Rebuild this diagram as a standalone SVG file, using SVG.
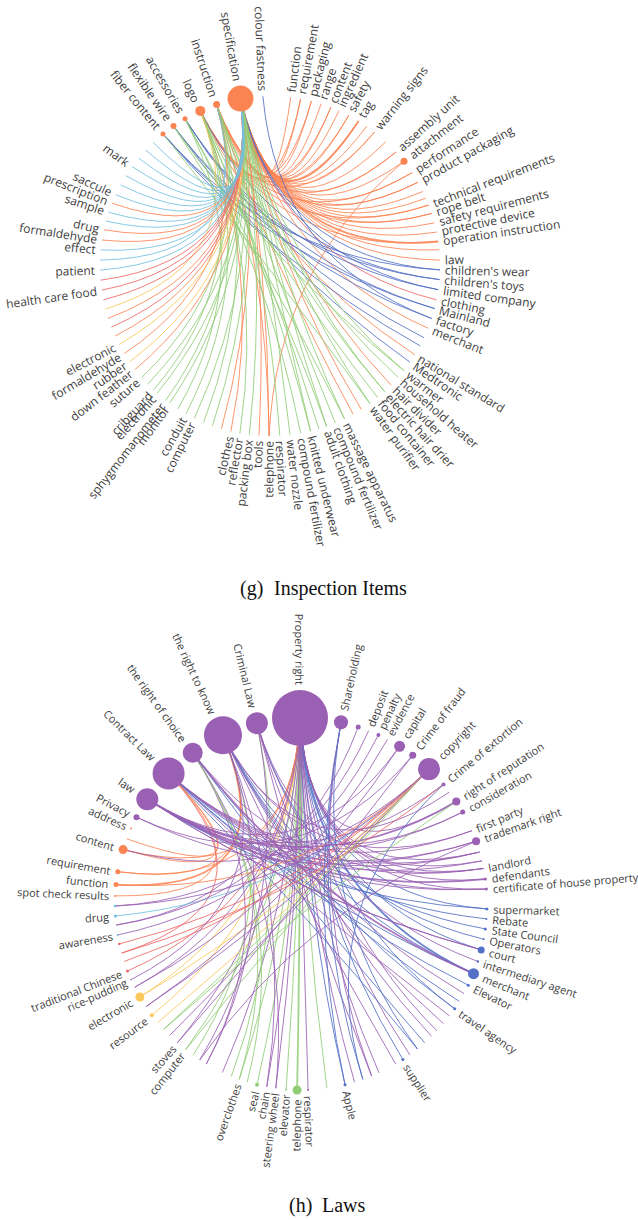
<svg xmlns="http://www.w3.org/2000/svg" width="638" height="1220" viewBox="0 0 638 1220">
<style>
.lb{font-family:"Open Sans","Noto Sans",sans-serif;font-size:12px;fill:#404040;dominant-baseline:central}
.lh{font-family:"Open Sans","Noto Sans",sans-serif;font-size:11px;fill:#404040;dominant-baseline:central}
.s{text-anchor:start}.e{text-anchor:end}
.cap{font-family:"Liberation Serif","Times New Roman",serif;font-size:20px;fill:#111}
.edges path{fill:none;stroke-width:1;stroke-opacity:.85}
.edges .w{stroke-width:1.8}
.o{stroke:#fc8452}.b{stroke:#5470c6}.g{stroke:#91cc75}.c{stroke:#73c0de}.r{stroke:#ee6666}.y{stroke:#fac858}.p{stroke:#9a60b4}
.fo{fill:#fc8452}.fb{fill:#5470c6}.fg{fill:#91cc75}.fc{fill:#73c0de}.fr{fill:#ee6666}.fy{fill:#fac858}.fp{fill:#9a60b4}
</style>

<!-- ============ (g) Inspection Items ============ -->
<g id="edges-g" class="edges">
<path class="o" d="M240.5 98.6Q269.5 249.2 290.7 97.3"/>
<path class="o" d="M240.5 98.6Q270 249.2 300.7 98.8"/>
<path class="o" d="M240.5 98.6Q270.6 249.4 311.4 101.1"/>
<path class="o" d="M240.5 98.6Q271.1 249.5 321.1 103.9"/>
<path class="o" d="M240.5 98.6Q271.5 249.7 330.9 107.3"/>
<path class="o" d="M240.5 98.6Q272 249.8 339.1 110.7"/>
<path class="o" d="M240.5 98.6Q272.4 250.1 348.8 115.3"/>
<path class="o w" d="M240.5 98.6Q272.9 250.3 358.6 120.9"/>
<path class="o" d="M240.5 98.6Q273.3 250.6 366.8 126.2"/>
<path class="o" d="M240.5 98.6Q273.7 250.9 374.7 132"/>
<path class="o" d="M240.5 98.6Q274.3 251.4 385.9 141.7"/>
<path class="o" d="M240.5 98.6Q274.8 251.9 396.1 152"/>
<path class="o" d="M240.5 98.6Q275.2 252.4 404 161.3"/>
<path class="o" d="M240.5 98.6Q275.6 252.9 412.1 172.7"/>
<path class="o" d="M240.5 98.6Q275.9 253.4 418 182.3"/>
<path class="o" d="M240.5 98.6Q276.1 253.9 422.8 191.5"/>
<path class="o" d="M240.5 98.6Q276.3 254.2 425.9 198.2"/>
<path class="o" d="M240.5 98.6Q276.4 254.6 428.7 205.1"/>
<path class="o" d="M240.5 98.6Q276.6 255 431.7 213.5"/>
<path class="o" d="M240.5 98.6Q276.7 255.4 434.4 222.9"/>
<path class="o" d="M240.5 98.6Q276.8 255.9 436.6 232.1"/>
<path class="o w" d="M240.5 98.6Q276.9 256.4 438.2 241.5"/>
<path class="o" d="M240.5 98.6Q277 256.8 439.2 249.7"/>
<path class="o" d="M240.5 98.6Q277 257.3 439.9 260.1"/>
<path class="o" d="M216.6 104.6Q268.8 249.5 300.7 98.8"/>
<path class="o" d="M216.6 104.6Q270.3 250 330.9 107.3"/>
<path class="o" d="M216.6 104.6Q271.7 250.6 358.6 120.9"/>
<path class="o" d="M216.6 104.6Q273.6 252.2 396.1 152"/>
<path class="o" d="M216.6 104.6Q274.7 253.7 418 182.3"/>
<path class="o" d="M216.6 104.6Q275.4 255.3 431.7 213.5"/>
<path class="o" d="M200.3 110.9Q268.6 250 311.4 101.1"/>
<path class="o" d="M200.3 110.9Q270.4 250.7 348.8 115.3"/>
<path class="o" d="M200.3 110.9Q271.7 251.5 374.7 132"/>
<path class="o" d="M200.3 110.9Q273.6 253.5 412.1 172.7"/>
<path class="o" d="M200.3 110.9Q274.4 255.2 428.7 205.1"/>
<path class="o" d="M200.3 110.9Q274.9 257 438.2 241.5"/>
<path class="o" d="M240.5 98.6Q276.4 260.7 428.2 328.3"/>
<path class="r" d="M240.5 98.6Q276.8 259.3 436.6 299.9"/>
<path class="o" d="M200.3 110.9Q273.7 262.6 414.9 354.8"/>
<path class="o" d="M240.5 98.6Q274.6 263.6 391.3 385.2"/>
<path class="o" d="M240.5 98.6Q273.1 264.8 361.3 409.4"/>
<path class="o" d="M216.6 104.6Q271.5 265.3 353.2 414.3"/>
<path class="o" d="M240.5 98.6Q268.5 266.1 269.1 436"/>
<path class="o" d="M240.5 98.6Q268 266.1 259 435.6"/>
<path class="o" d="M200.3 110.9Q264.5 266.5 230.9 431.4"/>
<path class="o" d="M240.5 98.6Q266.1 265.7 221.4 428.9"/>
<path class="o" d="M216.6 104.6Q267.3 266.4 269.1 436"/>
<path class="o" d="M404 161.3Q276.7 269.3 269.1 436"/>
<path class="b" d="M163 133.9Q273.2 259.6 439.9 269.9"/>
<path class="b" d="M173.5 126.1Q273.7 259.7 439.5 279.6"/>
<path class="b" d="M185 118.8Q274.2 259.8 438.4 289.7"/>
<path class="b" d="M163 133.9Q272.9 261.5 434.6 308.6"/>
<path class="b" d="M173.5 126.1Q273.3 261.6 431.7 318.5"/>
<path class="b" d="M185 118.8Q273.5 262.2 424.1 337.8"/>
<path class="b" d="M163 133.9Q272.2 263.4 420.1 345.8"/>
<path class="b" d="M173.5 126.1Q272.2 263.8 410.1 362.3"/>
<path class="b" d="M240.5 98.6Q277 257.8 439.9 269.9"/>
<path class="b" d="M240.5 98.6Q276.9 258.8 438.4 289.7"/>
<path class="b" d="M200.3 110.9Q275 258.9 439.5 279.6"/>
<path class="b" d="M262.9 96.2Q277.7 260.1 431.7 318.5"/>
<path class="b" d="M185 118.8Q274 260.7 434.6 308.6"/>
<path class="g" d="M240.5 98.6Q275.2 262.8 404 370.7"/>
<path class="g" d="M216.6 104.6Q273.7 263.5 398.3 377.5"/>
<path class="g" d="M240.5 98.6Q274.2 263.9 384.6 391.5"/>
<path class="g" d="M200.3 110.9Q271.9 264.8 377.7 397.5"/>
<path class="g" d="M240.5 98.6Q273.5 264.5 369.9 403.5"/>
<path class="g" d="M240.5 98.6Q272.2 265.2 344.5 418.8"/>
<path class="g" d="M216.6 104.6Q270.6 265.7 335.3 422.9"/>
<path class="g" d="M240.5 98.6Q271.3 265.6 326.5 426.3"/>
<path class="g" d="M200.3 110.9Q268.9 266.3 318.9 428.8"/>
<path class="g" d="M240.5 98.6Q270.5 265.9 310.5 431.1"/>
<path class="g" d="M185 118.8Q267.3 267 300.7 433.2"/>
<path class="g" d="M240.5 98.6Q269.5 266 290.1 434.8"/>
<path class="g" d="M216.6 104.6Q267.8 266.4 279.8 435.7"/>
<path class="g" d="M240.5 98.6Q267.5 266 249.3 434.7"/>
<path class="g" d="M200.3 110.9Q265 266.6 239.9 433.3"/>
<path class="g" d="M240.5 98.6Q265.6 265.6 212.4 426"/>
<path class="g" d="M216.6 104.6Q264 265.7 203.6 422.5"/>
<path class="g" d="M240.5 98.6Q264.7 265.2 194.4 418.3"/>
<path class="g" d="M200.3 110.9Q262.3 265.6 186 413.8"/>
<path class="g" d="M185 118.8Q261.2 265.7 177.9 408.9"/>
<path class="g" d="M240.5 98.6Q263.5 264.5 169.6 403.2"/>
<path class="g" d="M216.6 104.6Q262.1 264.6 165.8 400.3"/>
<path class="g" d="M240.5 98.6Q262.9 264 157.1 393.1"/>
<path class="g" d="M200.3 110.9Q260.7 264.4 153.6 389.9"/>
<path class="g" d="M240.5 98.6Q262.4 263.5 147.7 384.1"/>
<path class="g" d="M216.6 104.6Q260.9 263.5 141.7 377.5"/>
<path class="g" d="M173.5 126.1Q268.9 266.6 344.5 418.8"/>
<path class="g" d="M163 133.9Q269.7 266.3 369.9 403.5"/>
<path class="g" d="M185 118.8Q268.6 266.6 326.5 426.3"/>
<path class="g" d="M200.3 110.9Q268.5 266.5 310.5 431.1"/>
<path class="g" d="M216.6 104.6Q273 264.2 384.6 391.5"/>
<path class="g" d="M173.5 126.1Q271.9 264.2 404 370.7"/>
<path class="o" d="M240.5 98.6Q261.8 262.8 135.1 369.5"/>
<path class="y" d="M240.5 98.6Q261.5 262.4 129.6 361.8"/>
<path class="o" d="M216.6 104.6Q260 262.3 124.3 353.6"/>
<path class="y" d="M240.5 98.6Q261 261.5 119.2 344.5"/>
<path class="o" d="M240.5 98.6Q260.8 261.1 115.1 336"/>
<path class="r" d="M240.5 98.6Q260.6 260.7 111.4 327.2"/>
<path class="o" d="M240.5 98.6Q260.4 260.2 108.2 318.3"/>
<path class="y" d="M200.3 110.9Q258.3 260.4 105.6 309.1"/>
<path class="r" d="M240.5 98.6Q260.2 259.3 103.4 299.9"/>
<path class="r" d="M240.5 98.6Q260.1 258.8 101.7 290.2"/>
<path class="r" d="M240.5 98.6Q260 258.3 100.6 280.2"/>
<path class="c" d="M240.5 98.6Q260 257.8 100.1 270.1"/>
<path class="c" d="M216.6 104.6Q258.8 257.6 100.1 260.1"/>
<path class="c" d="M240.5 98.6Q260 256.8 100.7 250"/>
<path class="o" d="M240.5 98.6Q260.1 256.3 102 240"/>
<path class="o" d="M240.5 98.6Q260.2 255.8 103.9 229.8"/>
<path class="c" d="M240.5 98.6Q260.3 255.4 106 221.1"/>
<path class="c" d="M240.5 98.6Q260.4 254.9 108.7 212.3"/>
<path class="o" d="M240.5 98.6Q260.6 254.5 112.1 203.2"/>
<path class="c" d="M240.5 98.6Q260.8 254 115.7 194.7"/>
<path class="c" d="M240.5 98.6Q261 253.5 120.6 184.9"/>
<path class="c" d="M240.5 98.6Q261.3 253.1 126 175.7"/>
<path class="c" d="M240.5 98.6Q261.6 252.6 132.1 166.6"/>
<path class="c" d="M240.5 98.6Q261.9 252.2 138.6 158.1"/>
<path class="c" d="M240.5 98.6Q262.3 251.8 145.7 150.1"/>
<path class="c" d="M240.5 98.6Q262.7 251.4 153.2 142.5"/>
</g>

<g id="nodes-g">
<g id="g-function"><text class="lb s" transform="translate(270 266) rotate(-83)" x="175">function</text></g>
<g id="g-requirement"><text class="lb s" transform="translate(270 266) rotate(-79.6)" x="175">requirement</text></g>
<g id="g-packaging"><text class="lb s" transform="translate(270 266) rotate(-75.9)" x="175">packaging</text></g>
<g id="g-range"><text class="lb s" transform="translate(270 266) rotate(-72.5)" x="175">range</text></g>
<g id="g-content"><text class="lb s" transform="translate(270 266) rotate(-69)" x="175">content</text></g>
<g id="g-ingredient"><text class="lb s" transform="translate(270 266) rotate(-66)" x="175">ingredient</text></g>
<g id="g-safety"><text class="lb s" transform="translate(270 266) rotate(-62.4)" x="175">safety</text></g>
<g id="g-tag"><text class="lb s" transform="translate(270 266) rotate(-58.6)" x="175">tag</text></g>
<g id="g-warning-signs"><text class="lb s" transform="translate(270 266) rotate(-52)" x="175">warning signs</text></g>
<g id="g-assembly-unit"><text class="lb s" transform="translate(270 266) rotate(-42.1)" x="175">assembly unit</text></g>
<g id="g-attachment"><circle class="fo" cx="404" cy="161.3" r="3.5"/><text class="lb s" transform="translate(270 266) rotate(-38)" x="178.5">attachment</text></g>
<g id="g-performance"><text class="lb s" transform="translate(270 266) rotate(-33.3)" x="175">performance</text></g>
<g id="g-product-packaging"><text class="lb s" transform="translate(270 266) rotate(-29.5)" x="175">product packaging</text></g>
<g id="g-technical-requirements"><text class="lb s" transform="translate(270 266) rotate(-21)" x="175">technical requirements</text></g>
<g id="g-rope-belt"><text class="lb s" transform="translate(270 266) rotate(-18)" x="175">rope belt</text></g>
<g id="g-safety-requirements"><text class="lb s" transform="translate(270 266) rotate(-14.7)" x="175">safety requirements</text></g>
<g id="g-protective-device"><text class="lb s" transform="translate(270 266) rotate(-11.5)" x="175">protective device</text></g>
<g id="g-operation-instruction"><text class="lb s" transform="translate(270 266) rotate(-8.3)" x="175">operation instruction</text></g>
<g id="g-law"><text class="lb s" transform="translate(270 266) rotate(-2)" x="175">law</text></g>
<g id="g-childrens-wear"><text class="lb s" transform="translate(270 266) rotate(1.3)" x="175">children's wear</text></g>
<g id="g-childrens-toys"><text class="lb s" transform="translate(270 266) rotate(4.6)" x="175">children's toys</text></g>
<g id="g-limited-company"><text class="lb s" transform="translate(270 266) rotate(8)" x="175">limited company</text></g>
<g id="g-clothing"><text class="lb s" transform="translate(270 266) rotate(11.5)" x="175">clothing</text></g>
<g id="g-mainland"><text class="lb s" transform="translate(270 266) rotate(14.5)" x="175">Mainland</text></g>
<g id="g-factory"><text class="lb s" transform="translate(270 266) rotate(18)" x="175">factory</text></g>
<g id="g-merchant"><text class="lb s" transform="translate(270 266) rotate(21.5)" x="175">merchant</text></g>
<g id="g-national-standard"><text class="lb s" transform="translate(270 266) rotate(31.5)" x="175">national standard</text></g>
<g id="g-medtronic"><text class="lb s" transform="translate(270 266) rotate(34.5)" x="175">Medtronic</text></g>
<g id="g-warmer"><text class="lb s" transform="translate(270 266) rotate(38)" x="175">warmer</text></g>
<g id="g-household-heater"><text class="lb s" transform="translate(270 266) rotate(41)" x="175">household heater</text></g>
<g id="g-hair-divider"><text class="lb s" transform="translate(270 266) rotate(44.5)" x="175">hair divider</text></g>
<g id="g-electric-hair-drier"><text class="lb s" transform="translate(270 266) rotate(47.6)" x="175">electric hair drier</text></g>
<g id="g-food-container"><text class="lb s" transform="translate(270 266) rotate(50.7)" x="175">food container</text></g>
<g id="g-water-purifier"><text class="lb s" transform="translate(270 266) rotate(54)" x="175">water purifier</text></g>
<g id="g-massage-apparatus"><text class="lb s" transform="translate(270 266) rotate(64)" x="175">massage apparatus</text></g>
<g id="g-compound-fertilizer-1"><text class="lb s" transform="translate(270 266) rotate(67.4)" x="175">compound fertilizer</text></g>
<g id="g-adult-clothing"><text class="lb s" transform="translate(270 266) rotate(70.6)" x="175">adult clothing</text></g>
<g id="g-knitted-underwear"><text class="lb s" transform="translate(270 266) rotate(76.2)" x="175">knitted underwear</text></g>
<g id="g-compound-fertilizer-2"><text class="lb s" transform="translate(270 266) rotate(79.6)" x="175">compound fertilizer</text></g>
<g id="g-water-nozzle"><text class="lb s" transform="translate(270 266) rotate(83.2)" x="175">water nozzle</text></g>
<g id="g-respirator"><text class="lb s" transform="translate(270 266) rotate(86.7)" x="175">respirator</text></g>
<g id="g-telephone"><text class="lb e" transform="translate(270 266) rotate(-89.7)" x="-175">telephone</text></g>
<g id="g-tools"><text class="lb e" transform="translate(270 266) rotate(-86.3)" x="-175">tools</text></g>
<g id="g-packing-box"><text class="lb e" transform="translate(270 266) rotate(-83)" x="-175">packing box</text></g>
<g id="g-reflector"><text class="lb e" transform="translate(270 266) rotate(-79.8)" x="-175">reflector</text></g>
<g id="g-clothes"><text class="lb e" transform="translate(270 266) rotate(-76.7)" x="-175">clothes</text></g>
<g id="g-computer"><text class="lb e" transform="translate(270 266) rotate(-63.6)" x="-175">computer</text></g>
<g id="g-conduit"><text class="lb e" transform="translate(270 266) rotate(-60.4)" x="-175">conduit</text></g>
<g id="g-monitor"><text class="lb e" transform="translate(270 266) rotate(-53.8)" x="-175">monitor</text></g>
<g id="g-sphygmomanometer"><text class="lb e" transform="translate(270 266) rotate(-52.2)" x="-175">sphygmomanometer</text></g>
<g id="g-electronic-1"><text class="lb e" transform="translate(270 266) rotate(-48.4)" x="-175">electronic</text></g>
<g id="g-cribguard"><text class="lb e" transform="translate(270 266) rotate(-46.8)" x="-175">cribguard</text></g>
<g id="g-suture"><text class="lb e" transform="translate(270 266) rotate(-41)" x="-175">suture</text></g>
<g id="g-down-feather"><text class="lb e" transform="translate(270 266) rotate(-37.5)" x="-175">down feather</text></g>
<g id="g-rubber"><text class="lb e" transform="translate(270 266) rotate(-34.3)" x="-175">rubber</text></g>
<g id="g-formaldehyde-1"><text class="lb e" transform="translate(270 266) rotate(-31)" x="-175">formaldehyde</text></g>
<g id="g-electronic-2"><text class="lb e" transform="translate(270 266) rotate(-27.5)" x="-175">electronic</text></g>
<g id="g-health-care-food"><text class="lb e" transform="translate(270 266) rotate(-8.2)" x="-175">health care food</text></g>
<g id="g-patient"><text class="lb e" transform="translate(270 266) rotate(-1.4)" x="-175">patient</text></g>
<g id="g-effect"><text class="lb e" transform="translate(270 266) rotate(5.4)" x="-175">effect</text></g>
<g id="g-formaldehyde-2"><text class="lb e" transform="translate(270 266) rotate(8.8)" x="-175">formaldehyde</text></g>
<g id="g-drug"><text class="lb e" transform="translate(270 266) rotate(12.3)" x="-175">drug</text></g>
<g id="g-sample"><text class="lb e" transform="translate(270 266) rotate(18.4)" x="-175">sample</text></g>
<g id="g-prescription"><text class="lb e" transform="translate(270 266) rotate(21.7)" x="-175">prescription</text></g>
<g id="g-saccule"><text class="lb e" transform="translate(270 266) rotate(24.8)" x="-175">saccule</text></g>
<g id="g-mark"><text class="lb e" transform="translate(270 266) rotate(35.8)" x="-175">mark</text></g>
<g id="g-fiber-content"><circle class="fo" cx="163" cy="133.9" r="2.5"/><text class="lb e" transform="translate(270 266) rotate(51)" x="-177.5">fiber content</text></g>
<g id="g-flexible-wire"><circle class="fo" cx="173.5" cy="126.1" r="3"/><text class="lb e" transform="translate(270 266) rotate(55.4)" x="-178">flexible wire</text></g>
<g id="g-accessories"><circle class="fo" cx="185" cy="118.8" r="2.5"/><text class="lb e" transform="translate(270 266) rotate(60)" x="-177.5">accessories</text></g>
<g id="g-logo"><circle class="fo" cx="200.3" cy="110.9" r="5"/><text class="lb e" transform="translate(270 266) rotate(65.8)" x="-180">logo</text></g>
<g id="g-instruction"><circle class="fo" cx="216.6" cy="104.6" r="3.5"/><text class="lb e" transform="translate(270 266) rotate(71.7)" x="-178.5">instruction</text></g>
<g id="g-specification"><circle class="fo" cx="240.5" cy="98.6" r="13"/><text class="lb e" transform="translate(270 266) rotate(80)" x="-188">specification</text></g>
<g id="g-colour-fastness"><text class="lb e" transform="translate(270 266) rotate(87.6)" x="-175">colour fastness</text></g>
</g>

<g id="caption-g"><text class="cap" x="240" y="595">(g)</text><text class="cap" x="274" y="595">Inspection Items</text></g>

<!-- ============ (h) Laws ============ -->
<g id="edges-h" class="edges">
<path class="g w" d="M300 718Q300.8 904 297.1 1090"/>
<path class="g" d="M300 718Q300.2 904 286.1 1089.4"/>
<path class="g" d="M300 718Q298.8 903.7 257 1084.7"/>
<path class="g" d="M300 718Q297.9 903.5 239.2 1079.4"/>
<path class="g" d="M300 718Q302.2 903.9 326.9 1088.2"/>
<path class="g" d="M300 718Q295.2 902 185.5 1049.8"/>
<path class="y" d="M300 718Q292.9 899.4 139.9 997"/>
<path class="y" d="M300 718Q293.5 900.3 151.9 1015.2"/>
<path class="b w" d="M300 718Q309.6 898.2 473.5 973.7"/>
<path class="b" d="M300 718Q310 897 481.2 949.9"/>
<path class="b" d="M300 718Q310.2 895 486.9 908.9"/>
<path class="b" d="M300 718Q303.2 903.7 345 1084.7"/>
<path class="b" d="M300 718Q306 902.5 402.9 1059.6"/>
<path class="p" d="M300 718Q310.2 894 486.4 889.1"/>
<path class="p" d="M300 718Q310.1 892.9 483.6 868.5"/>
<path class="p" d="M300 718Q310.2 893.5 485.3 879.1"/>
<path class="p" d="M300 718Q301.3 904 308.1 1089.9"/>
<path class="p" d="M300 718Q299.7 903.9 275.8 1088.3"/>
<path class="p" d="M300 718Q299.2 903.8 266.8 1086.8"/>
<path class="p" d="M300 718Q303.6 903.6 354.5 1082.2"/>
<path class="p" d="M300 718Q304.9 903.1 379 1072.9"/>
<path class="p" d="M300 718Q306.4 902.2 409.8 1054.9"/>
<path class="r" d="M300 718Q292.3 898.1 127.5 971"/>
<path class="o" d="M300 718Q292.1 892 123.1 849.6"/>
<path class="p" d="M300 718Q292.6 898.9 134.7 987.3"/>
<path class="p" d="M300 718Q294.8 901.6 177.3 1042.9"/>
<path class="p" d="M300 718Q297 903.1 222.4 1072.6"/>
<path class="p" d="M300 718Q307.8 901 437 1030.9"/>
<path class="p" d="M300 718Q308.7 889.6 456.3 801.6"/>
<path class="p" d="M300 718Q309.9 892.1 479.6 852.1"/>
<path class="p" d="M300 718Q291.7 895.8 116.2 925.1"/>
<path class="o" d="M300 718Q291.8 893.1 117.8 871.7"/>
<path class="b" d="M300 718Q308.6 899.9 454.7 1008.8"/>
<path class="p" d="M256.9 723.3Q307.6 897.9 477.9 961.5"/>
<path class="b" d="M256.9 723.3Q307.9 896.8 483.7 939.2"/>
<path class="g" d="M256.9 723.3Q295.3 903.6 231.3 1076.5"/>
<path class="p" d="M256.9 723.3Q305.3 901.6 431.6 1036.4"/>
<path class="p" d="M256.9 723.3Q302.3 903.6 371.6 1076.1"/>
<path class="p" d="M256.9 723.3Q293.7 902.8 199.7 1060"/>
<path class="p" d="M256.9 723.3Q307.8 892.8 482 860.9"/>
<path class="o w" d="M223 735.2Q287.9 894.6 116 884.6"/>
<path class="o" d="M223 735.2Q288 894 117.8 871.7"/>
<path class="b" d="M223 735.2Q305.8 899.1 473.5 973.7"/>
<path class="b" d="M223 735.2Q306.4 896.8 485.3 928.9"/>
<path class="p" d="M223 735.2Q301.9 903.6 395.7 1064.1"/>
<path class="p" d="M223 735.2Q304.3 901.6 443.5 1023.6"/>
<path class="g" d="M223 735.2Q291.8 903.2 193 1055.4"/>
<path class="p" d="M223 735.2Q305.3 900.1 464 993.6"/>
<path class="p" d="M223 735.2Q305.7 891.9 472 830.7"/>
<path class="p" d="M223 735.2Q295.4 904.7 266.8 1086.8"/>
<path class="b" d="M223 735.2Q304.8 900.8 454.7 1008.8"/>
<path class="g" d="M192.7 752.8Q292.5 905.2 239.2 1079.4"/>
<path class="p" d="M192.7 752.8Q294.3 905.6 275.8 1088.3"/>
<path class="b" d="M192.7 752.8Q301.7 903.3 424.7 1042.9"/>
<path class="b" d="M192.7 752.8Q303.5 901.3 459.4 1001.5"/>
<path class="p" d="M192.7 752.8Q304.7 894.6 483.6 868.5"/>
<path class="p" d="M192.7 752.8Q290.8 904.4 206.3 1064.1"/>
<path class="g" d="M192.7 752.8Q292.9 905.3 247.2 1082.1"/>
<path class="o" d="M168.6 773.4Q285.5 894.8 123.1 849.6"/>
<path class="o" d="M168.6 773.4Q285.1 897.1 115.2 895.9"/>
<path class="b" d="M168.6 773.4Q303 901 473.5 973.7"/>
<path class="b" d="M168.6 773.4Q302.7 901.6 468.3 985.2"/>
<path class="p" d="M168.6 773.4Q303.5 895.7 483.6 868.5"/>
<path class="p" d="M168.6 773.4Q303.3 894.9 479.6 852.1"/>
<path class="p" d="M168.6 773.4Q302.9 893.8 472 830.7"/>
<path class="p" d="M168.6 773.4Q303.6 896.8 486.4 889.1"/>
<path class="r" d="M168.6 773.4Q285.4 900 121.6 953.1"/>
<path class="b" d="M168.6 773.4Q300.2 904.8 417.5 1049"/>
<path class="o" d="M168.6 773.4Q285.6 894.2 126.8 838.9"/>
<path class="p" d="M168.6 773.4Q301.8 903.1 449.5 1015.9"/>
<path class="b" d="M168.6 773.4Q303.6 898.2 486.4 918.9"/>
<path class="p w" d="M147.3 799.2Q302.6 897.6 485.3 879.1"/>
<path class="p" d="M147.3 799.2Q302.6 898.1 486.4 889.1"/>
<path class="p" d="M147.3 799.2Q302.4 896.6 482 860.9"/>
<path class="p" d="M147.3 799.2Q302.3 896.2 479.6 852.1"/>
<path class="p" d="M147.3 799.2Q301.4 894.2 462.7 812.1"/>
<path class="p" d="M147.3 799.2Q302.1 895.7 476.1 841.3"/>
<path class="p" d="M147.3 799.2Q302.4 901.1 481.2 949.9"/>
<path class="p" d="M147.3 799.2Q300.5 892.8 443.5 784.4"/>
<path class="b" d="M147.3 799.2Q302.6 899.1 486.9 908.9"/>
<path class="p w" d="M147.3 799.2Q301.1 893.7 456.3 801.6"/>
<path class="p" d="M147.3 799.2Q298.3 890.9 399.6 746.3"/>
<path class="o" d="M429 769.1Q298.2 896.3 116 884.6"/>
<path class="y" d="M429 769.1Q299.4 902 139.9 997"/>
<path class="g" d="M429 769.1Q301.7 904.6 185.5 1049.8"/>
<path class="g" d="M429 769.1Q300.6 903.6 163.6 1029.4"/>
<path class="r" d="M429 769.1Q298.6 900.2 124.1 961.5"/>
<path class="c" d="M429 769.1Q298.2 897.9 115.4 916"/>
<path class="p" d="M429 769.1Q300.9 903.9 169.5 1035.5"/>
<path class="p" d="M429 769.1Q299.7 902.4 145.9 1006.7"/>
<path class="p" d="M429 769.1Q298.6 894.6 123.1 849.6"/>
<path class="y" d="M429 769.1Q300.3 903.2 157.7 1022.6"/>
<path class="r" d="M429 769.1Q298.4 899.3 119.3 943.9"/>
<path class="p" d="M429 769.1Q298.2 897.4 115 906"/>
<path class="r" d="M443.5 784.4Q299.2 900.5 121.6 953.1"/>
<path class="b" d="M443.5 784.4Q311.2 906.8 362.8 1079.4"/>
<path class="b" d="M341 722.3Q305.3 903.9 345 1084.7"/>
<path class="b" d="M341 722.3Q306.1 903.7 362.8 1079.4"/>
<path class="p" d="M341 722.3Q306.6 903.5 371.6 1076.1"/>
<path class="b" d="M341 722.3Q308.9 902.2 417.5 1049"/>
<path class="p" d="M358.2 727Q294.6 896.3 116.2 925.1"/>
<path class="p" d="M368.6 730.7Q295.1 895.4 115 906"/>
<path class="p" d="M378.4 734.9Q295.7 897 117.6 935"/>
<path class="p" d="M387.5 739.3Q297 900 134.7 987.3"/>
<path class="p" d="M399.6 746.3Q298.2 901.2 145.9 1006.7"/>
<path class="p" d="M412.7 755.3Q300.4 903.5 177.3 1042.9"/>
<path class="p" d="M412.7 755.3Q298.3 892.3 136.5 817.2"/>
<path class="g" d="M456.3 801.6Q301.9 905.2 163.6 1029.4"/>
<path class="p" d="M462.7 812.1Q302.4 892.9 168.6 773.4"/>
<path class="p" d="M476.1 841.3Q301.5 896.6 136.5 817.2"/>
<path class="p" d="M476.1 841.3Q304.7 908.7 199.7 1060"/>
<path class="p" d="M449.5 792.1Q304.6 890 223 735.2"/>
<path class="p w" d="M473.5 973.7Q304.2 900 192.7 752.8"/>
<path class="p" d="M481.2 949.9Q302.4 901.1 147.3 799.2"/>
<path class="p" d="M206.3 1064.1Q292.4 903.6 223 735.2"/>
<path class="p" d="M131.1 979.6Q291 897.7 223 735.2"/>
</g>

<g id="nodes-h">
<g id="h-property-right"><circle class="fp" cx="300" cy="718" r="28"/><text class="lh e" transform="translate(301 904) rotate(89.7)" x="-219">Property right</text></g>
<g id="h-shareholding"><circle class="fp" cx="341" cy="722.3" r="7"/><text class="lh s" transform="translate(301 904) rotate(-77.6)" x="198">Shareholding</text></g>
<g id="h-n2"><circle class="fp" cx="358.2" cy="727" r="2.5"/></g>
<g id="h-deposit"><text class="lh s" transform="translate(301 904) rotate(-68.7)" x="191">deposit</text></g>
<g id="h-penalty"><circle class="fp" cx="378.4" cy="734.9" r="2"/><text class="lh s" transform="translate(301 904) rotate(-65.4)" x="193">penalty</text></g>
<g id="h-evidence"><text class="lh s" transform="translate(301 904) rotate(-62.3)" x="191">evidence</text></g>
<g id="h-capital"><circle class="fp" cx="399.6" cy="746.3" r="5.5"/><text class="lh s" transform="translate(301 904) rotate(-58)" x="196.5">capital</text></g>
<g id="h-crime-of-fraud"><circle class="fp" cx="412.7" cy="755.3" r="3.5"/><text class="lh s" transform="translate(301 904) rotate(-53.1)" x="194.5">Crime of fraud</text></g>
<g id="h-copyright"><circle class="fp" cx="429" cy="769.1" r="11"/><text class="lh s" transform="translate(301 904) rotate(-46.5)" x="202">copyright</text></g>
<g id="h-crime-of-extortion"><circle class="fp" cx="443.5" cy="784.4" r="2"/><text class="lh s" transform="translate(301 904) rotate(-40)" x="193">Crime of extortion</text></g>
<g id="h-right-of-reputation"><circle class="fp" cx="456.3" cy="801.6" r="4"/><text class="lh s" transform="translate(301 904) rotate(-33.4)" x="195">right of reputation</text></g>
<g id="h-consideration"><circle class="fp" cx="462.7" cy="812.1" r="2.5"/><text class="lh s" transform="translate(301 904) rotate(-29.6)" x="193.5">consideration</text></g>
<g id="h-first-party"><text class="lh s" transform="translate(301 904) rotate(-23.2)" x="191">first party</text></g>
<g id="h-trademark-right"><circle class="fp" cx="476.1" cy="841.3" r="4"/><text class="lh s" transform="translate(301 904) rotate(-19.7)" x="195">trademark right</text></g>
<g id="h-landlord"><text class="lh s" transform="translate(301 904) rotate(-11)" x="191">landlord</text></g>
<g id="h-defendants"><circle class="fp" cx="485.3" cy="879.1" r="1.5"/><text class="lh s" transform="translate(301 904) rotate(-7.7)" x="192.5">defendants</text></g>
<g id="h-certificate"><circle class="fp" cx="486.4" cy="889.1" r="1.5"/><text class="lh s" transform="translate(301 904) rotate(-4.6)" x="192.5">certificate of house property</text></g>
<g id="h-supermarket"><circle class="fb" cx="486.9" cy="908.9" r="1.5"/><text class="lh s" transform="translate(301 904) rotate(1.5)" x="192.5">supermarket</text></g>
<g id="h-rebate"><circle class="fb" cx="486.4" cy="918.9" r="1"/><text class="lh s" transform="translate(301 904) rotate(4.6)" x="192">Rebate</text></g>
<g id="h-state-council"><circle class="fb" cx="485.3" cy="928.9" r="1.5"/><text class="lh s" transform="translate(301 904) rotate(7.7)" x="192.5">State Council</text></g>
<g id="h-operators"><circle class="fb" cx="483.7" cy="939.2" r="1"/><text class="lh s" transform="translate(301 904) rotate(10.9)" x="192">Operators</text></g>
<g id="h-court"><circle class="fb" cx="481.2" cy="949.9" r="3.5"/><text class="lh s" transform="translate(301 904) rotate(14.3)" x="194.5">court</text></g>
<g id="h-intermediary-agent"><circle class="fb" cx="477.9" cy="961.5" r="1.2"/><text class="lh s" transform="translate(301 904) rotate(18)" x="192">intermediary agent</text></g>
<g id="h-merchant"><circle class="fb" cx="473.5" cy="973.7" r="5.5"/><text class="lh s" transform="translate(301 904) rotate(22)" x="196.5">merchant</text></g>
<g id="h-elevator-1"><circle class="fb" cx="468.3" cy="985.2" r="1.5"/><text class="lh s" transform="translate(301 904) rotate(25.9)" x="192.5">Elevator</text></g>
<g id="h-travel-agency"><circle class="fb" cx="454.7" cy="1008.8" r="1.5"/><text class="lh s" transform="translate(301 904) rotate(34.3)" x="192.5">travel agency</text></g>
<g id="h-supplier"><circle class="fb" cx="402.9" cy="1059.6" r="1.5"/><text class="lh s" transform="translate(301 904) rotate(56.8)" x="192.5">supplier</text></g>
<g id="h-apple"><circle class="fb" cx="345" cy="1084.7" r="1.5"/><text class="lh s" transform="translate(301 904) rotate(76.3)" x="192.5">Apple</text></g>
<g id="h-respirator"><circle class="fp" cx="308.1" cy="1089.9" r="1"/><text class="lh s" transform="translate(301 904) rotate(87.8)" x="192">respirator</text></g>
<g id="h-telephone"><circle class="fg" cx="297.1" cy="1090" r="4.5"/><text class="lh e" transform="translate(301 904) rotate(-88.8)" x="-195.5">telephone</text></g>
<g id="h-elevator-2"><circle class="fg" cx="286.1" cy="1089.4" r="1"/><text class="lh e" transform="translate(301 904) rotate(-85.4)" x="-191">elevator</text></g>
<g id="h-steering-wheel"><text class="lh e" transform="translate(301 904) rotate(-82.2)" x="-191">steering wheel</text></g>
<g id="h-chain"><text class="lh e" transform="translate(301 904) rotate(-79.4)" x="-191">chain</text></g>
<g id="h-seal"><circle class="fg" cx="257" cy="1084.7" r="2"/><text class="lh e" transform="translate(301 904) rotate(-76.3)" x="-193">seal</text></g>
<g id="h-overclothes"><text class="lh e" transform="translate(301 904) rotate(-70.6)" x="-191">overclothes</text></g>
<g id="h-computer"><text class="lh e" transform="translate(301 904) rotate(-51.6)" x="-191">computer</text></g>
<g id="h-stoves"><text class="lh e" transform="translate(301 904) rotate(-48.3)" x="-191">stoves</text></g>
<g id="h-resource"><circle class="fy" cx="151.9" cy="1015.2" r="2"/><text class="lh e" transform="translate(301 904) rotate(-36.7)" x="-193">resource</text></g>
<g id="h-electronic"><circle class="fy" cx="139.9" cy="997" r="4.5"/><text class="lh e" transform="translate(301 904) rotate(-30)" x="-195.5">electronic</text></g>
<g id="h-rice-pudding"><circle class="fp" cx="131.1" cy="979.6" r="0.8"/><text class="lh e" transform="translate(301 904) rotate(-24)" x="-191">rice-pudding</text></g>
<g id="h-traditional-chinese"><circle class="fr" cx="127.5" cy="971" r="1.5"/><text class="lh e" transform="translate(301 904) rotate(-21.1)" x="-192.5">traditional Chinese</text></g>
<g id="h-red-dot"><circle class="fr" cx="119.3" cy="943.9" r="1.2"/></g>
<g id="h-awareness"><circle class="fc" cx="117.6" cy="935" r="1"/><text class="lh e" transform="translate(301 904) rotate(-9.6)" x="-191">awareness</text></g>
<g id="h-drug"><circle class="fc" cx="115.4" cy="916" r="1.5"/><text class="lh e" transform="translate(301 904) rotate(-3.7)" x="-192.5">drug</text></g>
<g id="h-lb-dot"><circle class="fc" cx="115" cy="906" r="1.2"/></g>
<g id="h-spot-check-results"><circle class="fo" cx="115.2" cy="895.9" r="1"/><text class="lh e" transform="translate(301 904) rotate(2.5)" x="-192">spot check results</text></g>
<g id="h-function"><circle class="fo" cx="116" cy="884.6" r="2.5"/><text class="lh e" transform="translate(301 904) rotate(6)" x="-193.5">function</text></g>
<g id="h-requirement"><circle class="fo" cx="117.8" cy="871.7" r="2.5"/><text class="lh e" transform="translate(301 904) rotate(10)" x="-193.5">requirement</text></g>
<g id="h-content"><circle class="fo" cx="123.1" cy="849.6" r="4.5"/><text class="lh e" transform="translate(301 904) rotate(17)" x="-195.5">content</text></g>
<g id="h-address"><circle class="fo" cx="131.1" cy="828.4" r="1"/><text class="lh e" transform="translate(301 904) rotate(24)" x="-191">address</text></g>
<g id="h-privacy"><circle class="fp" cx="136.5" cy="817.2" r="3"/><text class="lh e" transform="translate(301 904) rotate(27.8)" x="-194">Privacy</text></g>
<g id="h-law"><circle class="fp" cx="147.3" cy="799.2" r="11"/><text class="lh e" transform="translate(301 904) rotate(34.3)" x="-202">law</text></g>
<g id="h-contract-law"><circle class="fp" cx="168.6" cy="773.4" r="16"/><text class="lh e" transform="translate(301 904) rotate(44.6)" x="-207">Contract Law</text></g>
<g id="h-right-of-choice"><circle class="fp" cx="192.7" cy="752.8" r="10"/><text class="lh e" transform="translate(301 904) rotate(54.4)" x="-201">the right of choice</text></g>
<g id="h-right-to-know"><circle class="fp" cx="223" cy="735.2" r="19"/><text class="lh e" transform="translate(301 904) rotate(65.2)" x="-210">the right to know</text></g>
<g id="h-criminal-law"><circle class="fp" cx="256.9" cy="723.3" r="11"/><text class="lh e" transform="translate(301 904) rotate(76.3)" x="-202">Criminal Law</text></g>
</g>

<g id="caption-h"><text class="cap" x="289" y="1212">(h)</text><text class="cap" x="322" y="1212">Laws</text></g>
</svg>
